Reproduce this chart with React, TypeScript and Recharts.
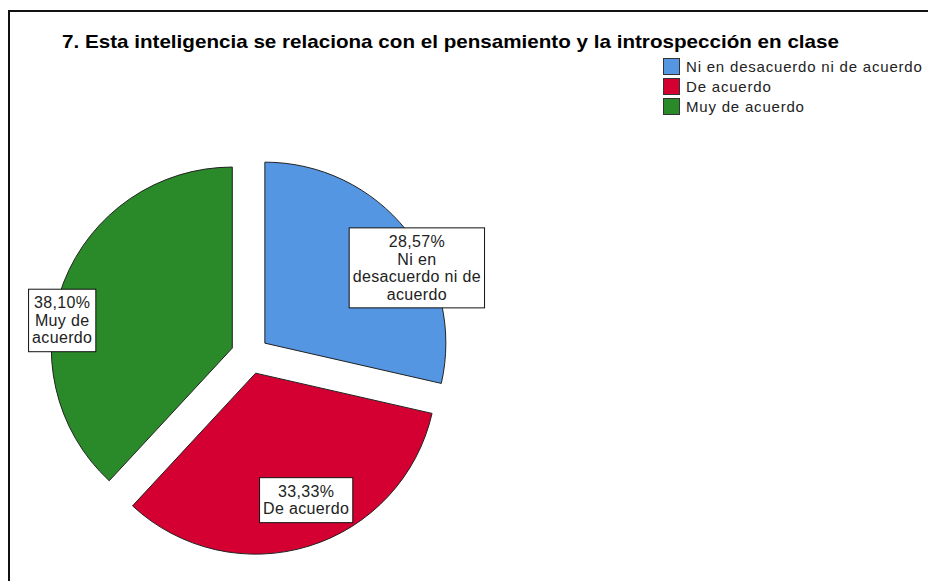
import { PieChart, Pie, Legend, Sector } from "recharts";

const categories = ["Ni en desacuerdo ni de acuerdo", "De acuerdo", "Muy de acuerdo"];
const percents = [28.57, 33.33, 38.1];
const sliceColors = ["#5596E3", "#D50032", "#2A8A2A"];
// label text as wrapped in the picture
const labelLines = [["Ni en", "desacuerdo ni de", "acuerdo"], ["De acuerdo"], ["Muy de", "acuerdo"]];

const title = "7. Esta inteligencia se relaciona con el pensamiento y la introspección en clase";

// placement of the label boxes: radius fraction and a small turn (degrees)
const labelPlacement = [
  { radius: 1.04, turn: -11 },
  { radius: 0.86, turn: 4 },
  { radius: 1.055, turn: 11 },
];

const RAD = Math.PI / 180;
const EXPLODE = 19;
const LABEL_FONT = '16px "Liberation Sans", Arial, sans-serif';
const LABEL_SPACING = 0.35;
const LINE_H = 17.5;

let measureCtx: CanvasRenderingContext2D | null = null;
const textWidth = (s: string) => {
  if (!measureCtx) measureCtx = document.createElement("canvas").getContext("2d");
  if (!measureCtx) return s.length * 8;
  measureCtx.font = LABEL_FONT;
  return measureCtx.measureText(s).width + s.length * LABEL_SPACING;
};

const formatPct = (v: number) => v.toFixed(2).replace(".", ",") + "%";

const data = categories.map((name, i) => ({ name, value: percents[i], fill: sliceColors[i] }));

const ExplodedSector = (props: any) => {
  const { cx, cy, startAngle, endAngle } = props;
  const mid = props.midAngle ?? (startAngle + endAngle) / 2;
  const dx = EXPLODE * Math.cos(-mid * RAD);
  const dy = EXPLODE * Math.sin(-mid * RAD);
  return <Sector {...props} cx={cx + dx} cy={cy + dy} />;
};

const SliceLabel = (props: any) => {
  const { cx, cy, midAngle, outerRadius, index } = props;
  const place = labelPlacement[index];
  const ang = (midAngle + place.turn) * RAD;
  const r = outerRadius * place.radius;
  const x = cx + r * Math.cos(-ang);
  const y = cy + r * Math.sin(-ang);
  const lines = [formatPct(percents[index]), ...labelLines[index]];
  const w = Math.max(...lines.map(textWidth)) + 7;
  const h = lines.length * LINE_H + 10;
  const top = y - h / 2;
  return (
    <g>
      <rect x={x - w / 2} y={top} width={w} height={h} fill="#fff" stroke="#111" strokeWidth={1} />
      {lines.map((ln, k) => (
        <text
          key={k}
          x={x}
          y={top + 5 + LINE_H * k + LINE_H / 2}
          textAnchor="middle"
          dominantBaseline="central"
          style={{ font: LABEL_FONT, letterSpacing: LABEL_SPACING }}
          fill="#222"
        >
          {ln}
        </text>
      ))}
    </g>
  );
};

const LegendBox = ({ payload }: any) => {
  const colorOf = (name: string, i: number) => {
    const hit = payload && payload.find((p: any) => p.value === name);
    return hit ? hit.color : sliceColors[i];
  };
  return (
    <div>
      {categories.map((c, i) => (
        <div key={c} style={{ display: "flex", alignItems: "center", height: 20 }}>
          <span
            style={{
              width: 15,
              height: 15,
              background: colorOf(c, i),
              border: "1px solid #333",
              display: "inline-block",
            }}
          />
          <span
            style={{
              marginLeft: 6,
              font: '15px "Liberation Sans", Arial, sans-serif',
              letterSpacing: 0.8,
              color: "#222",
              whiteSpace: "nowrap",
            }}
          >
            {c}
          </span>
        </div>
      ))}
    </div>
  );
};

export default function App() {
  return (
    <div style={{ position: "fixed", top: 0, left: 0, width: 928, height: 581, background: "#fff", overflow: "hidden" }}>
      <PieChart width={928} height={581} margin={{ top: 0, right: 0, bottom: 0, left: 0 }}>
        <Legend
          content={<LegendBox />}
          wrapperStyle={{ position: "absolute", left: 663, top: 56, width: 265 }}
        />
        <Pie
          data={data}
          dataKey="value"
          nameKey="name"
          cx={250}
          cy={355}
          outerRadius={181}
          startAngle={90}
          endAngle={-270}
          stroke="#222"
          strokeWidth={1}
          shape={ExplodedSector}
          inactiveShape={ExplodedSector}
          activeShape={ExplodedSector}
          label={SliceLabel}
          labelLine={false}
          isAnimationActive={false}
        />
      </PieChart>
      <svg
        width={928}
        height={581}
        style={{ position: "absolute", top: 0, left: 0, pointerEvents: "none" }}
      >
        <path d="M9,590 L9,11 L940,11" fill="none" stroke="#111" strokeWidth={2} />
        <text
          x={62}
          y={48}
          textLength={777}
          lengthAdjust="spacingAndGlyphs"
          style={{ font: 'bold 19px "Liberation Sans", Arial, sans-serif' }}
          fill="#000"
        >
          {title}
        </text>
      </svg>
    </div>
  );
}
